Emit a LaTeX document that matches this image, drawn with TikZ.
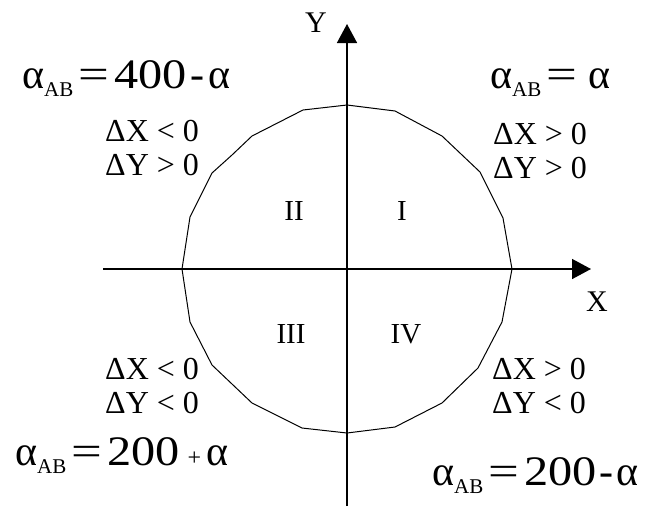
\documentclass[tikz,border=0pt]{standalone}
\usepackage{fontspec}
\setmainfont{Liberation Serif}
\usetikzlibrary{arrows.meta}
\newcommand\myaAB{α\raisebox{-8pt}{\fontsize{21}{21}\selectfont AB}}
\newcommand\myeq{\kern5pt\scalebox{1.3}[1]{=}\kern5pt}
\newcommand\mynum[1]{\scalebox{1.15}[1]{#1}}
\begin{document}
\begin{tikzpicture}[x=1pt,y=-1pt,
  bigf/.style={font=\fontsize{42}{48}\selectfont, inner sep=0, anchor=base west},
  cond/.style={font=\fontsize{32}{34}\selectfont, inner sep=0, anchor=north west, align=left},
  quad/.style={font=\fontsize{29}{30}\selectfont, inner sep=0},
  axlab/.style={font=\fontsize{30}{30}\selectfont, inner sep=0},
  axis/.style={line width=1.5pt, -{Triangle[length=19pt,width=20pt]}},
  ring/.style={line width=1pt, line join=round}]
\useasboundingbox (0,0) rectangle (648,509);
% axes
\coordinate (xl) at (103,269);
\coordinate (xr) at (591,269);
\coordinate (yb) at (347,506);
\coordinate (yt) at (347,24);
\draw[axis] (xl) -- (xr);
\draw[axis] (yb) -- (yt);
% circle (polygon)
\draw[ring] (347,105) -- (395,111) -- (442,136) -- (480,172) -- (503,218) -- (512,269)
  -- (502,322) -- (478,368) -- (442,403) -- (395,427) -- (347,433)
  -- (302,428) -- (252,403) -- (212,365) -- (190,322) -- (182,269)
  -- (190,217) -- (212,173) -- (232,155) -- (252,136) -- (303,110) -- cycle;
% axis labels
\node[axlab] (ylab) at (316,23) {Y};
\node[axlab] (xlab) at (597,302) {X};
% quadrant numerals
\node[quad] (q2) at (294,211) {II};
\node[quad] (q1) at (402,211) {I};
\node[quad] (q3) at (291,334) {III};
\node[quad] (q4) at (406,334) {IV};
% conditions
\node[cond] (c2) at (105,120) {ΔX < 0\\ΔY > 0};
\node[cond] (c1) at (493,123) {ΔX > 0\\ΔY > 0};
\node[cond] (c3) at (105,358) {ΔX < 0\\ΔY < 0};
\node[cond] (c4) at (492,358) {ΔX > 0\\ΔY < 0};
% formulas
\node[bigf] (f2) at (22,88) {\myaAB\myeq\mynum{400}\kern4pt-\kern4ptα};
\node[bigf] (f1) at (490,88) {\myaAB\myeq\kern6ptα};
\node[bigf] (f3) at (15,465) {\myaAB\myeq\mynum{200}\kern8pt{\fontsize{24}{24}\selectfont +}\kern5ptα};
\node[bigf] (f4) at (432,485) {\myaAB\myeq\mynum{200}\kern3pt-\kern3ptα};
\end{tikzpicture}
\end{document}
